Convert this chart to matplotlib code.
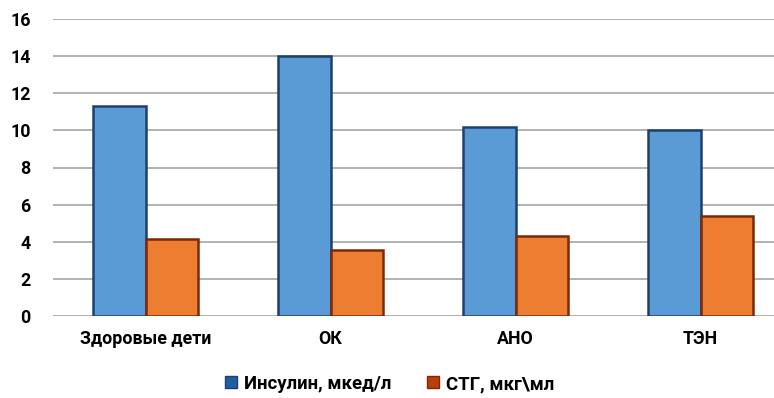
import numpy as np
import matplotlib.pyplot as plt
from matplotlib.lines import Line2D

plt.rcParams["font.family"] = ["Roboto", "DejaVu Sans"]

categories = ["Здоровые дети", "ОК", "АНО", "ТЭН"]
insulin = [11.3, 14.0, 10.2, 10.0]
stg = [4.15, 3.55, 4.3, 5.4]
series_names = ["Инсулин, мкед/л", "СТГ, мкг\\мл"]

blue, blue_edge = "#5B9BD5", "#1F3F6E"
orange, orange_edge = "#ED7D31", "#7A2A0A"

fig = plt.figure(figsize=(7.74, 3.98), dpi=100)
# plot area runs past the right edge of the picture, as in the original
ax = fig.add_axes([53 / 774, 1 - 316 / 398, 740 / 774, 297 / 398])

x = np.arange(len(categories))
w = 1 / 3.5
ax.bar(x - w / 2, insulin, w, color=blue, edgecolor=blue_edge, linewidth=1.8, zorder=3)
ax.bar(x + w / 2, stg, w, color=orange, edgecolor=orange_edge, linewidth=1.8, zorder=3)

ax.set_xlim(-0.5, len(categories) - 0.5)
ax.set_ylim(0, 16)
ax.set_yticks(range(0, 17, 2))
ax.yaxis.grid(True, color="#A6A6A6", linewidth=1.2, zorder=0)
ax.set_axisbelow(True)
for s in ax.spines.values():
    s.set_visible(False)
ax.tick_params(axis="both", length=0, labelsize=12.8)
ax.tick_params(axis="y", pad=16)
ax.tick_params(axis="x", pad=10)
ax.set_xticks(x)
ax.set_xticklabels(categories, fontweight="bold")
for t in ax.get_yticklabels():
    t.set_fontweight("bold")

handles = [
    Line2D([], [], marker="s", linestyle="none", markersize=9,
           markerfacecolor="#1F5FA0", markeredgecolor=blue_edge),
    Line2D([], [], marker="s", linestyle="none", markersize=9,
           markerfacecolor="#B8400F", markeredgecolor=orange_edge),
]
fig.legend(handles, series_names, loc="center", bbox_to_anchor=(0.5, 1 - 384 / 398),
           ncol=2, frameon=False, handletextpad=0.1, columnspacing=1.6,
           handlelength=1.2, prop={"weight": "bold", "size": 13.4})

fig.savefig("out.png", dpi=100)
